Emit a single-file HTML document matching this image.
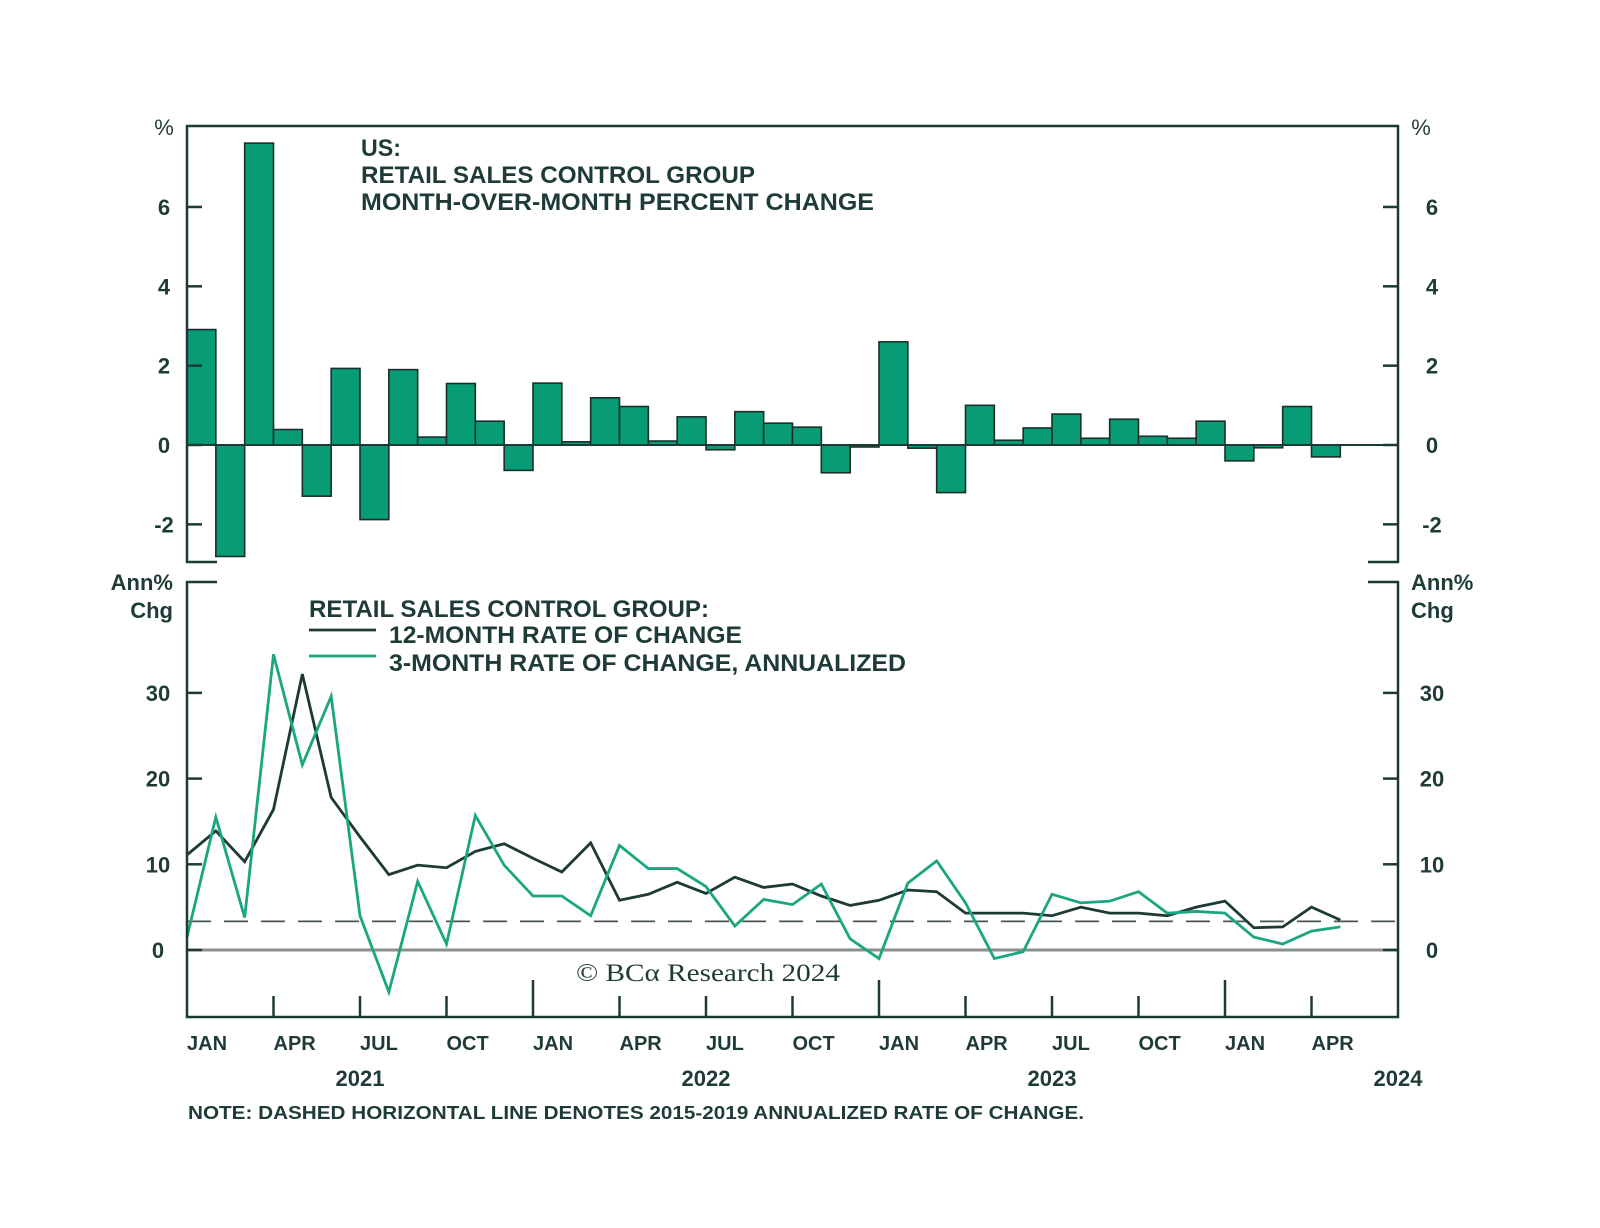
<!DOCTYPE html>
<html><head><meta charset="utf-8"><style>
html,body{margin:0;padding:0;background:#fff;}
svg{display:block;}
text{font-family:"Liberation Sans",sans-serif;fill:#1f3b38;}
.b{font-weight:bold;}
</style></head><body>
<svg id="chart" width="1600" height="1228" viewBox="0 0 1600 1228" xmlns="http://www.w3.org/2000/svg">
<g id="topPanel"></g>
<g id="botPanel"></g>
<g>
<text x="361" y="156" font-size="24" class="b" textLength="40" lengthAdjust="spacingAndGlyphs">US:</text>
<text x="361" y="183" font-size="24" class="b" textLength="394" lengthAdjust="spacingAndGlyphs">RETAIL SALES CONTROL GROUP</text>
<text x="361" y="210" font-size="24" class="b" textLength="513" lengthAdjust="spacingAndGlyphs">MONTH-OVER-MONTH PERCENT CHANGE</text>
</g>
<g>
<text x="309" y="617" font-size="24" class="b" textLength="400" lengthAdjust="spacingAndGlyphs">RETAIL SALES CONTROL GROUP:</text>
<line x1="309" y1="630" x2="376" y2="630" stroke="#1e3a36" stroke-width="2.8"/>
<text x="389" y="643" font-size="24" class="b" textLength="353" lengthAdjust="spacingAndGlyphs">12-MONTH RATE OF CHANGE</text>
<line x1="309" y1="656" x2="376" y2="656" stroke="#1aa67f" stroke-width="2.8"/>
<text x="389" y="671" font-size="24" class="b" textLength="517" lengthAdjust="spacingAndGlyphs">3-MONTH RATE OF CHANGE, ANNUALIZED</text>
</g>
<text x="576" y="981" font-size="25" style="font-family:'Liberation Serif',serif" textLength="264" lengthAdjust="spacingAndGlyphs">© BCα Research 2024</text>
<text x="188" y="1119" font-size="18" class="b" textLength="896" lengthAdjust="spacingAndGlyphs">NOTE: DASHED HORIZONTAL LINE DENOTES 2015-2019 ANNUALIZED RATE OF CHANGE.</text>
</svg>
<script>
const momValues=[2.91,-2.81,7.61,0.39,-1.29,1.93,-1.88,1.90,0.20,1.55,0.60,-0.64,1.56,0.08,1.19,0.97,0.10,0.71,-0.12,0.84,0.55,0.45,-0.70,-0.05,2.60,-0.08,-1.20,1.00,0.12,0.43,0.78,0.17,0.65,0.22,0.17,0.60,-0.40,-0.07,0.97,-0.30];
const yoyValues=[11.1,13.9,10.3,16.4,32.2,17.8,13.2,8.8,9.9,9.6,11.5,12.4,10.7,9.1,12.5,5.8,6.5,7.9,6.6,8.5,7.3,7.7,6.3,5.2,5.8,7.0,6.8,4.3,4.3,4.3,4.0,5.0,4.3,4.3,4.0,5.0,5.7,2.6,2.7,5.0,3.5];
const ann3mValues=[1.5,15.5,3.8,34.5,21.6,29.6,4.0,-4.9,8.0,0.7,15.7,9.9,6.3,6.3,4.0,12.2,9.5,9.5,7.4,2.8,5.9,5.3,7.7,1.3,-1.0,7.8,10.4,5.5,-1.0,-0.2,6.5,5.5,5.7,6.8,4.3,4.5,4.3,1.5,0.7,2.2,2.7];
const trendLevel=[3.34];
const topTicks=[6,4,2,0,-2];
const botTicks=[30,20,10,0];
const monthLabels=["JAN","APR","JUL","OCT"];
const yearLabels=["2021","2022","2023","2024"];

const NS="http://www.w3.org/2000/svg";
const L=187,R=1398,MW=(R-L)/42;
const BOTY=1017;
const x=i=>L+i*MW;
const yT=v=>445-v*39.67;
const yB=v=>950-v*8.57;
const DARK="#1e3a36";
function mk(tag,attrs,parent){const e=document.createElementNS(NS,tag);for(const k in attrs)e.setAttribute(k,attrs[k]);parent.appendChild(e);return e;}
const topG=document.getElementById('topPanel'),botG=document.getElementById('botPanel');

momValues.forEach((v,i)=>{
  const y0=yT(0),y1=yT(v);
  const r=mk('rect',{x:x(i),y:Math.min(y0,y1),width:MW,height:Math.max(1,Math.abs(y1-y0)),fill:"#079c74",stroke:"#1a2f2b","stroke-width":1.6},topG);
  
  
});
let z=mk('line',{x1:L,x2:R,y1:yT(0),y2:yT(0),stroke:DARK,"stroke-width":2},topG);


let f=mk('path',{d:`M${L+30},562 H${L} V126 H${R} V562 H${R-30}`,fill:"none",stroke:DARK,"stroke-width":2.5},topG);


topTicks.forEach(v=>{
  mk('line',{x1:L,x2:L+15,y1:yT(v),y2:yT(v),stroke:DARK,"stroke-width":2.5},topG);
  mk('line',{x1:R-15,x2:R,y1:yT(v),y2:yT(v),stroke:DARK,"stroke-width":2.5},topG);
  let t=mk('text',{x:164,y:yT(v)+8,"font-size":22,"text-anchor":"middle",class:"b"},topG);t.textContent=v;
  
  
  let t2=mk('text',{x:1432,y:yT(v)+8,"font-size":22,"text-anchor":"middle",class:"b"},topG);t2.textContent=v;
  
  
});
[164,1421].forEach(px=>{let t=mk('text',{x:px,y:135,"font-size":22,"text-anchor":"middle"},topG);t.textContent="%";
  
  });

let zl=mk('line',{x1:L,x2:R,y1:yB(0),y2:yB(0),stroke:"#8a8f8d","stroke-width":3},botG);


let dl=mk('line',{x1:L,x2:R,y1:yB(trendLevel[0]),y2:yB(trendLevel[0]),stroke:"#4a5553","stroke-width":1.8,"stroke-dasharray":"24 13"},botG);


function series(vals,color,name){
  const p=mk('polyline',{points:vals.map((v,i)=>x(i)+","+yB(v)).join(" "),fill:"none",stroke:color,"stroke-width":2.8},botG);
  
  
}
series(yoyValues,"#1e3a36","line-12-month");
series(ann3mValues,"#1aa67f","line-3-month-annualized");
let bf=mk('path',{d:`M${L+30},582 H${L} V${BOTY} H${R} V582 H${R-30}`,fill:"none",stroke:DARK,"stroke-width":2.5},botG);


botTicks.forEach(v=>{
  mk('line',{x1:L,x2:L+15,y1:yB(v),y2:yB(v),stroke:DARK,"stroke-width":2.5},botG);
  mk('line',{x1:R-15,x2:R,y1:yB(v),y2:yB(v),stroke:DARK,"stroke-width":2.5},botG);
  let t=mk('text',{x:158,y:yB(v)+8,"font-size":22,"text-anchor":"middle",class:"b"},botG);t.textContent=v;
  
  
  let t2=mk('text',{x:1432,y:yB(v)+8,"font-size":22,"text-anchor":"middle",class:"b"},botG);t2.textContent=v;
  
  
});
[["Ann%",173,590,"end"],["Chg",173,618,"end"],["Ann%",1411,590,"start"],["Chg",1411,618,"start"]].forEach(([s,px,py,a])=>{
  let t=mk('text',{x:px,y:py,"font-size":22,"text-anchor":a,class:"b"},botG);t.textContent=s;
  
  
});
for(let i=3;i<=39;i+=3){
  const major=i%12===0;
  mk('line',{x1:x(i),x2:x(i),y1:BOTY,y2:BOTY-(major?37:21),stroke:DARK,"stroke-width":2.5},botG);
}
for(let i=0;i<=39;i+=3){
  let t=mk('text',{x:x(i),y:1050,"font-size":20,class:"b"},botG);t.textContent=monthLabels[(i/3)%4];
  
  
}
yearLabels.forEach((s,k)=>{
  const i=k<3?6+12*k:42;
  let t=mk('text',{x:x(i),y:1086,"font-size":22,"text-anchor":"middle",class:"b"},botG);t.textContent=s;
  
  
});
</script>
</body></html>
